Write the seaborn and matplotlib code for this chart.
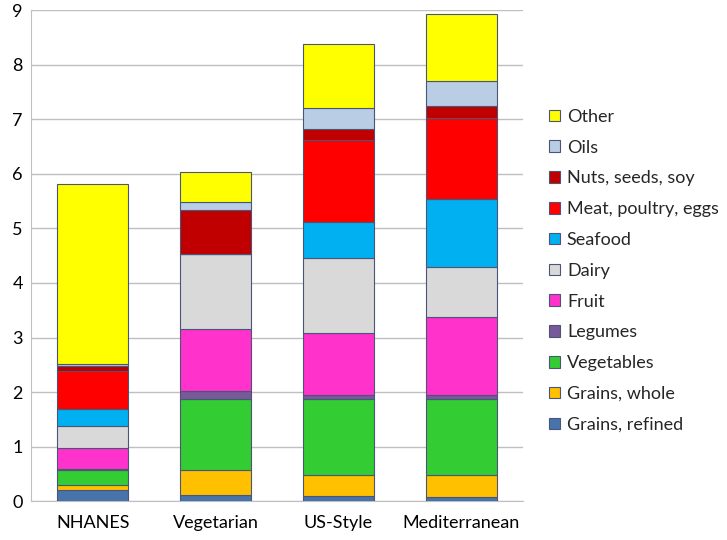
import matplotlib
matplotlib.use("Agg")
import matplotlib.pyplot as plt
from matplotlib.patches import Patch
import seaborn as sns
import numpy as np

# Food-group amounts per diet pattern
diets = ["NHANES", "Vegetarian", "US-Style", "Mediterranean"]
groups = ["Grains, refined", "Grains, whole", "Vegetables", "Legumes", "Fruit",
          "Dairy", "Seafood", "Meat, poultry, eggs", "Nuts, seeds, soy", "Oils", "Other"]

grains_refined = [0.20, 0.12, 0.09, 0.08]
grains_whole = [0.09, 0.45, 0.39, 0.39]
vegetables = [0.28, 1.30, 1.40, 1.40]
legumes = [0.02, 0.15, 0.07, 0.08]
fruit = [0.38, 1.14, 1.13, 1.43]
dairy = [0.40, 1.37, 1.38, 0.92]
seafood = [0.31, 0.00, 0.66, 1.24]
meat = [0.70, 0.00, 1.51, 1.48]
nuts = [0.09, 0.80, 0.19, 0.22]
oils = [0.05, 0.15, 0.39, 0.47]
other = [3.30, 0.55, 1.18, 1.23]

series = [grains_refined, grains_whole, vegetables, legumes, fruit,
          dairy, seafood, meat, nuts, oils, other]
colors = ["#4774AC", "#FFC000", "#33CC33", "#775A98", "#FF33CC",
          "#D9D9D9", "#00B0F0", "#FF0000", "#C00000", "#B9CDE5", "#FFFF00"]

sns.set_style("white")
plt.rcParams["font.family"] = ["Lato", "DejaVu Sans"]

fig = plt.figure(figsize=(7.27, 5.40), dpi=100)
ax = fig.add_axes([0.043, 0.072, 0.676, 0.909])

bottom = np.zeros(len(diets))
for vals, col in zip(series, colors):
    sns.barplot(x=diets, y=vals, bottom=bottom, color=col, width=0.58,
                edgecolor="#4A5578", linewidth=0.8, saturation=1, ax=ax, zorder=3)
    bottom += np.array(vals)

ax.set_xlim(-0.5, 3.5)
ax.set_ylim(0, 9)
ax.set_yticks(range(0, 10))
ax.yaxis.grid(True, color="#BFBFBF", linewidth=1, zorder=0)
ax.set_axisbelow(True)
for side in ["top", "right"]:
    ax.spines[side].set_visible(False)
ax.spines["left"].set_color("#BFBFBF")
ax.spines["bottom"].set_color("#BFBFBF")
ax.tick_params(axis="both", length=0, labelsize=13, colors="black")
ax.tick_params(axis="x", pad=10)
ax.tick_params(axis="y", pad=6)
ax.set_xlabel("")
ax.set_ylabel("")

handles = [Patch(facecolor=c, edgecolor="#4A5578", linewidth=0.8, label=g)
           for g, c in zip(groups, colors)][::-1]
fig.legend(handles=handles, loc="upper left", bbox_to_anchor=(0.745, 0.812),
           frameon=False, fontsize=13, handlelength=0.6, handleheight=0.6,
           handletextpad=0.4, labelspacing=0.82, borderaxespad=0)

fig.savefig("out.png", dpi=100)
